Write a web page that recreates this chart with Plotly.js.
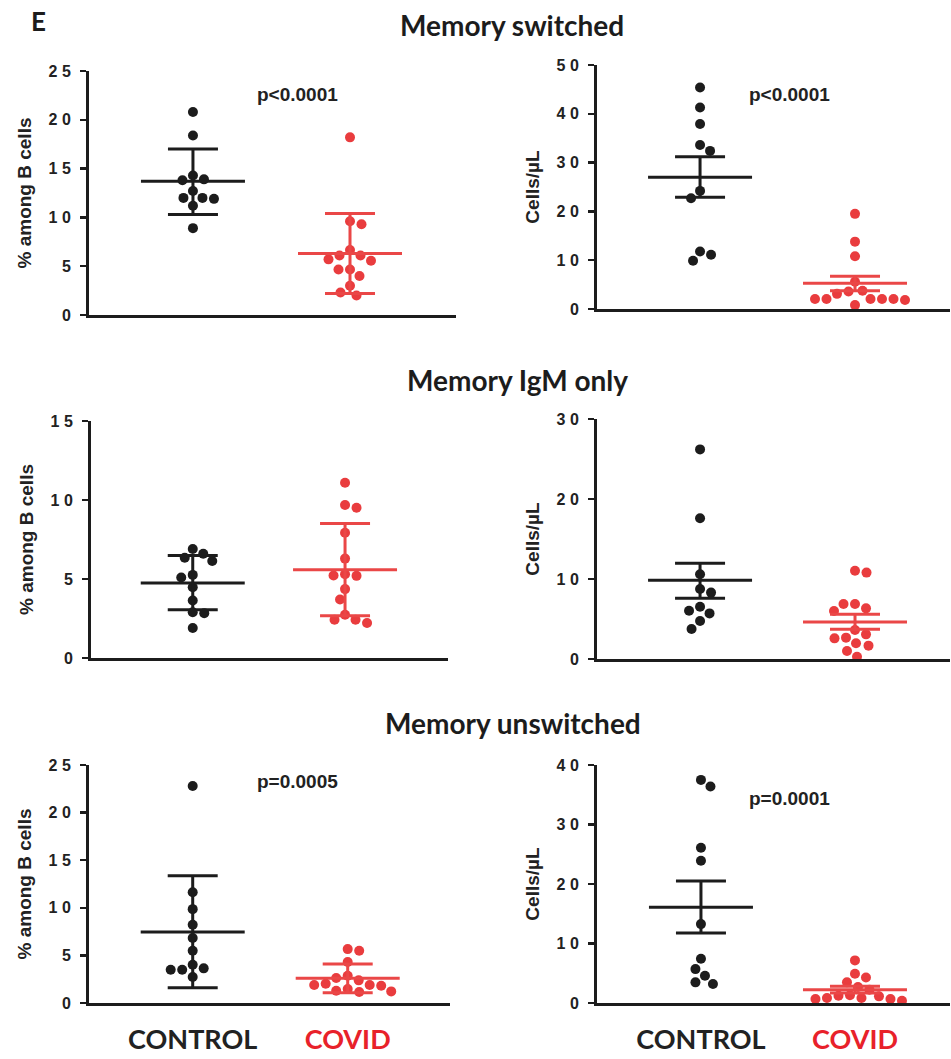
<!DOCTYPE html>
<html>
<head>
<meta charset="utf-8">
<script src="https://cdn.plot.ly/plotly-3.0.1.min.js"></script>
<style>html,body{margin:0;padding:0;background:#fff}#chart{width:951px;height:1059px}</style>
</head>
<body>
<div id="chart"></div>
<script>
// ---------- data ----------
const groups = ['CONTROL', 'COVID'];

// Memory switched, % among B cells
const swCtrlPct = [20.8, 18.4, 14.3, 13.8, 13.9, 12.0, 11.9, 12.0, 12.7, 11.2, 8.9];
const swCovPct  = [18.2, 9.6, 9.3, 6.65, 6.1, 6.1, 5.55, 5.7, 4.67, 4.67, 4.0, 3.0, 2.3, 2.0];
const swPctMean = [13.7, 6.3];
const swPctHi   = [17.0, 10.4];
const swPctLo   = [10.3, 2.2];

// Memory switched, cells/µL
const swCtrlCnt = [45.4, 41.3, 37.9, 33.6, 32.4, 24.2, 22.7, 11.8, 11.1, 9.9];
const swCovCnt  = [19.5, 13.8, 10.8, 5.6, 3.6, 3.75, 2.05, 2.05, 2.05, 1.85, 2.05, 2.05, 3.1, 0.8];
const swCntMean = [27.0, 5.26];
const swCntHi   = [31.2, 6.7];
const swCntLo   = [22.9, 3.76];

// Memory IgM only, % among B cells
const igmCtrlPct = [6.9, 6.6, 6.35, 6.14, 5.26, 5.1, 4.48, 3.64, 2.9, 2.84, 1.9];
const igmCovPct  = [11.09, 9.68, 9.51, 7.93, 6.29, 5.3, 5.22, 5.2, 4.36, 3.7, 2.74, 2.42, 2.21, 2.42];
const igmPctMean = [4.75, 5.58];
const igmPctHi   = [6.48, 8.52];
const igmPctLo   = [3.05, 2.67];

// Memory IgM only, cells/µL
const igmCtrlCnt = [26.2, 17.6, 10.6, 8.3, 8.75, 6.04, 6.54, 5.7, 4.75, 3.75];
const igmCovCnt  = [11.04, 10.8, 6.875, 6.875, 6.0, 6.33, 3.625, 2.67, 2.58, 3.08, 1.67, 1.96, 1.0, 0.29];
const igmCntMean = [9.83, 4.625];
const igmCntHi   = [11.96, 5.58];
const igmCntLo   = [7.58, 3.71];

// Memory unswitched, % among B cells
const unCtrlPct = [22.8, 11.64, 9.86, 8.22, 6.82, 5.49, 4.02, 3.5, 3.5, 3.64, 2.73];
const unCovPct  = [5.49, 5.66, 4.3, 2.87, 2.62, 2.38, 1.89, 1.82, 1.47, 1.89, 2.03, 1.29, 1.15, 1.22];
const unPctMean = [7.45, 2.59];
const unPctHi   = [13.36, 4.09];
const unPctLo   = [1.61, 1.08];

// Memory unswitched, cells/µL
const unCtrlCnt = [37.5, 36.4, 26.1, 23.9, 13.26, 7.44, 5.7, 4.59, 3.47, 3.19];
const unCovCnt  = [7.16, 4.92, 4.3, 3.47, 2.69, 2.24, 1.23, 0.84, 0.67, 0.39, 0.67, 0.84, 1.12, 1.29];
const unCntMean = [16.1, 2.24];
const unCntHi   = [20.5, 2.8];
const unCntLo   = [11.75, 1.68];

// tick values / labels
const ticks25 = [0, 5, 10, 15, 20, 25];
const labels25 = ['0', '5', '1 0', '1 5', '2 0', '2 5'];
const ticks50 = [0, 10, 20, 30, 40, 50];
const labels50 = ['0', '1 0', '2 0', '3 0', '4 0', '5 0'];
const ticks15 = [0, 5, 10, 15];
const labels15 = ['0', '5', '1 0', '1 5'];
const ticks30 = [0, 10, 20, 30];
const labels30 = ['0', '1 0', '2 0', '3 0'];
const ticks40 = [0, 10, 20, 30, 40];
const labels40 = ['0', '1 0', '2 0', '3 0', '4 0'];

const sectionTitles = ['Memory switched', 'Memory IgM only', 'Memory unswitched'];
const pctTitle = '% among B cells';
const cntTitle = 'Cells/µL';

// ---------- layout / style ----------
const W = 951, H = 1059;
const BLACK = '#1c1c1c', RED = '#e93c3e', RED_LINE = '#ea4747', RED_TXT = '#e8212a';
const DOT = 10, DOT_GAP = 11.5;
const MEAN_W = 104; // px length of the mean line

const panels = [
  {ctrl: swCtrlPct, cov: swCovPct, mean: swPctMean, hi: swPctHi, lo: swPctLo, ymax: 25, tv: ticks25, tt: labels25, yt: pctTitle,
   px: [89, 456], py: [71, 315], xr: [0.338, 2.675], p: 'p<0.0001', pxy: [297, 95]},
  {ctrl: swCtrlCnt, cov: swCovCnt, mean: swCntMean, hi: swCntHi, lo: swCntLo, ymax: 50, tv: ticks50, tt: labels50, yt: cntTitle,
   px: [597, 950], py: [65, 309], xr: [0.335, 2.613], p: 'p<0.0001', pxy: [789, 95]},
  {ctrl: igmCtrlPct, cov: igmCovPct, mean: igmPctMean, hi: igmPctHi, lo: igmPctLo, ymax: 15, tv: ticks15, tt: labels15, yt: pctTitle,
   px: [91, 448], py: [421, 658], xr: [0.332, 2.676], p: null},
  {ctrl: igmCtrlCnt, cov: igmCovCnt, mean: igmCntMean, hi: igmCntHi, lo: igmCntLo, ymax: 30, tv: ticks30, tt: labels30, yt: cntTitle,
   px: [597, 950], py: [419, 659], xr: [0.335, 2.613], p: null},
  {ctrl: unCtrlPct, cov: unCovPct, mean: unPctMean, hi: unPctHi, lo: unPctLo, ymax: 25, tv: ticks25, tt: labels25, yt: pctTitle,
   px: [89, 450], py: [765, 1003], xr: [0.331, 2.66], p: 'p=0.0005', pxy: [297, 781], bottom: true},
  {ctrl: unCtrlCnt, cov: unCovCnt, mean: unCntMean, hi: unCntHi, lo: unCntLo, ymax: 40, tv: ticks40, tt: labels40, yt: cntTitle,
   px: [597, 950], py: [765, 1003], xr: [0.325, 2.617], p: 'p=0.0001', pxy: [789, 798], bottom: true}
];

// simple beeswarm: horizontal pixel offsets so dots do not overlap
function swarm(values, pxPerY, d) {
  const order = values.map((v, i) => i).sort((a, b) => values[b] - values[a]);
  const placed = [];
  const out = new Array(values.length);
  let side = 1;
  for (const i of order) {
    const y = values[i] * pxPerY;
    let pos = null;
    for (let k = 0; k < 400 && pos === null; k++) {
      const c = k === 0 ? [0] : [side * k * 0.5, -side * k * 0.5];
      for (const x of c) {
        if (placed.every(p => (p.x - x) * (p.x - x) + (p.y - y) * (p.y - y) >= d * d - 0.01)) { pos = x; break; }
      }
    }
    if (pos !== 0) side = -Math.sign(pos);
    placed.push({x: pos, y: y});
    out[i] = pos;
  }
  return out;
}

const data = [];
const layout = {
  width: W, height: H,
  margin: {l: 0, r: 0, t: 0, b: 0},
  paper_bgcolor: '#fff', plot_bgcolor: 'rgba(0,0,0,0)',
  showlegend: false,
  annotations: []
};

const tickFont = {family: 'Liberation Sans, Arial, sans-serif', size: 16, weight: 'bold', color: '#222'};
const titleFont = {family: 'Liberation Sans, Arial, sans-serif', size: 19, weight: 'bold', color: '#222'};

panels.forEach((pn, k) => {
  const n = k + 1;
  const xa = 'x' + (n === 1 ? '' : n), ya = 'y' + (n === 1 ? '' : n);
  const xKey = 'xaxis' + (n === 1 ? '' : n), yKey = 'yaxis' + (n === 1 ? '' : n);
  const pxPerX = (pn.px[1] - pn.px[0]) / (pn.xr[1] - pn.xr[0]);
  const pxPerY = (pn.py[1] - pn.py[0]) / pn.ymax;

  layout[xKey] = {
    domain: [pn.px[0] / W, pn.px[1] / W], range: pn.xr, anchor: ya,
    showline: true, linewidth: 3, linecolor: BLACK, showgrid: false, zeroline: false,
    ticks: '', fixedrange: true,
    showticklabels: !!pn.bottom,
    tickvals: [1, 2],
    ticktext: [groups[0], '<span style="color:' + RED_TXT + '">' + groups[1] + '</span>'],
    tickfont: {family: 'Lato, sans-serif', size: 27, weight: 'bold', color: '#222'},
    ticklabelstandoff: 11
  };
  layout[yKey] = {
    domain: [1 - pn.py[1] / H, 1 - pn.py[0] / H], range: [0, pn.ymax], anchor: xa,
    showline: true, linewidth: 3, linecolor: BLACK, showgrid: false, zeroline: false,
    ticks: 'outside', ticklen: 6, tickwidth: 2.5, tickcolor: BLACK,
    tickvals: pn.tv, ticktext: pn.tt, tickfont: tickFont, ticklabelstandoff: 6,
    fixedrange: true,
    title: {text: pn.yt, font: titleFont, standoff: 12}
  };

  [[pn.ctrl, 1, BLACK], [pn.cov, 2, RED]].forEach(([vals, cx, col]) => {
    const off = swarm(vals, pxPerY, DOT_GAP);
    data.push({
      type: 'scatter', mode: 'markers', xaxis: xa, yaxis: ya, cliponaxis: false,
      x: off.map(o => cx + o / pxPerX), y: vals,
      marker: {size: DOT, color: col, line: {width: 0}}, hoverinfo: 'y'
    });
  });

  [0, 1].forEach(g => {
    const col = g === 0 ? BLACK : RED_LINE;
    data.push({
      type: 'scatter', mode: 'markers', xaxis: xa, yaxis: ya, cliponaxis: false,
      x: [g + 1], y: [pn.mean[g]],
      // line-ew symbol is drawn 1.4x the marker size
      marker: {symbol: 'line-ew', size: MEAN_W / 1.4, color: col, line: {width: 3, color: col}},
      error_y: {type: 'data', symmetric: false, array: [pn.hi[g] - pn.mean[g]], arrayminus: [pn.mean[g] - pn.lo[g]],
                width: 25, thickness: 3, color: col},
      hoverinfo: 'y'
    });
  });

  if (pn.p) {
    layout.annotations.push({
      text: pn.p, xref: 'paper', yref: 'paper', x: pn.pxy[0] / W, y: 1 - pn.pxy[1] / H,
      xanchor: 'center', yanchor: 'middle', showarrow: false,
      font: {family: 'Liberation Sans, Arial, sans-serif', size: 19, weight: 'bold', color: '#222'}
    });
  }
});

const secFont = {family: 'Lato, sans-serif', size: 28, weight: 'bold', color: '#1c1c1c'};
[[512, 25], [517, 380], [513, 723]].forEach((p, i) => {
  layout.annotations.push({text: sectionTitles[i], xref: 'paper', yref: 'paper', x: p[0] / W, y: 1 - p[1] / H,
    xanchor: 'center', yanchor: 'middle', showarrow: false, font: secFont});
});
layout.annotations.push({text: 'E', xref: 'paper', yref: 'paper', x: 38 / W, y: 1 - 21 / H,
  xanchor: 'center', yanchor: 'middle', showarrow: false, font: {family: 'Lato, sans-serif', size: 26, weight: 'bold', color: '#1c1c1c'}});

Plotly.newPlot('chart', data, layout, {staticPlot: true, displayModeBar: false});
</script>
</body>
</html>
